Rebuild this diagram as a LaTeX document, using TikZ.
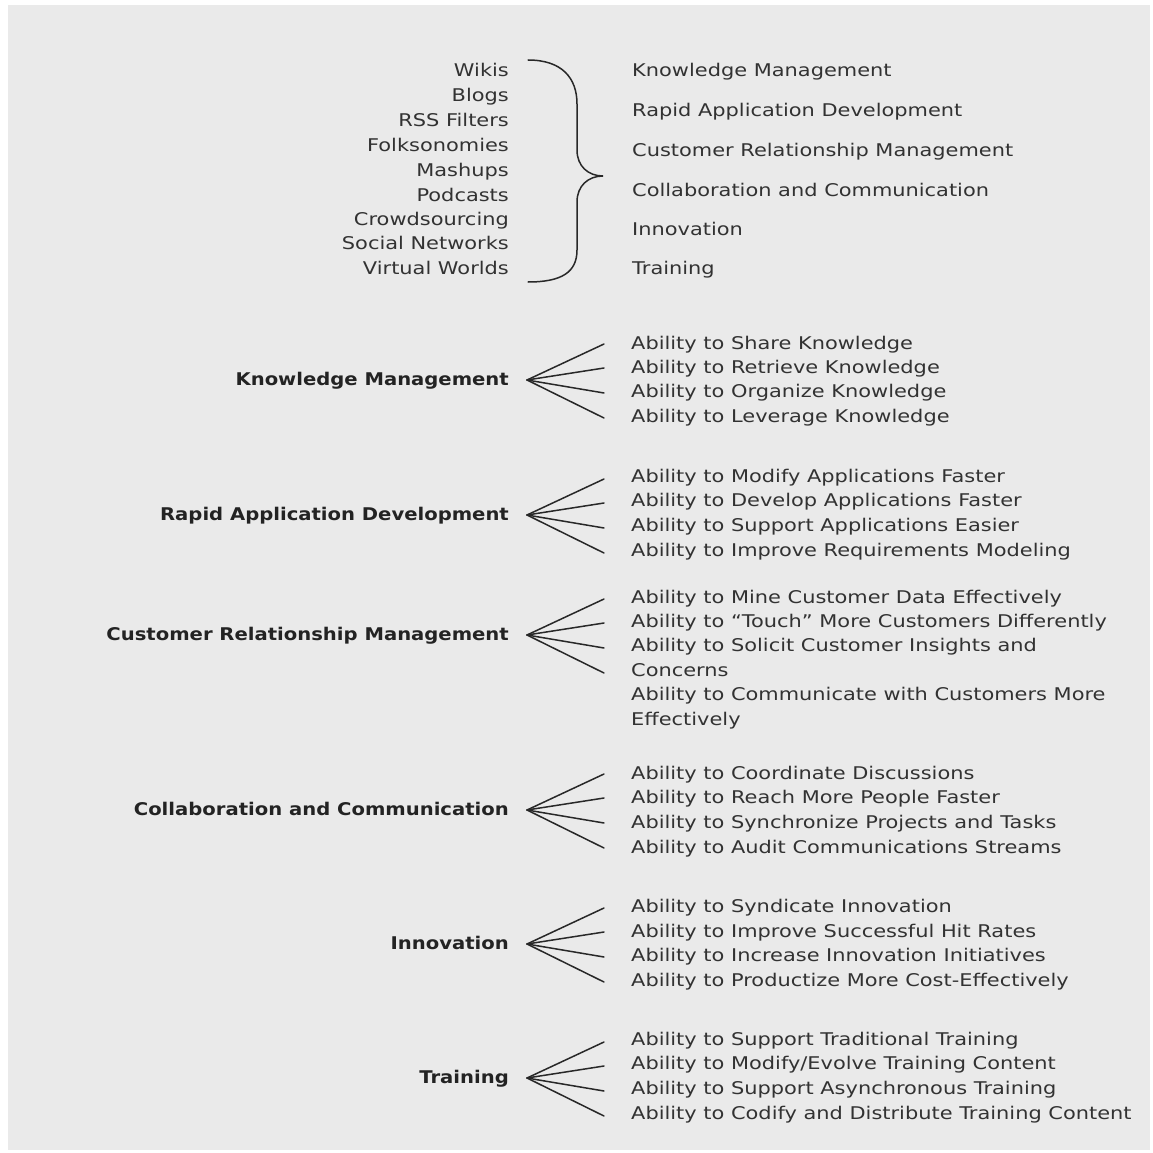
\documentclass[tikz,border=0pt]{standalone}
\usepackage{fontspec}
\setmainfont{DejaVu Sans}[FakeStretch=1.195]
\newfontfamily\headfamily{DejaVu Sans}[FakeStretch=1.12]
\definecolor{bgc}{RGB}{234,234,234}
\definecolor{txtc}{RGB}{50,50,50}
\definecolor{headc}{RGB}{35,35,35}
\definecolor{linec}{RGB}{40,40,40}
\newcommand{\itemfont}{\fontsize{17.5}{24.5}\selectfont}
\newcommand{\headfont}{\headfamily\bfseries\fontsize{17.5}{24.5}\selectfont}
\begin{document}
\begin{tikzpicture}[x=1pt,y=-1pt,
  item/.style={anchor=base west,inner sep=0pt,text=txtc,font=\itemfont,align=left},
  tool/.style={anchor=base east,inner sep=0pt,text=txtc,font=\itemfont},
  head/.style={anchor=base east,inner sep=0pt,text=headc,font=\headfont},
  fan/.style={draw=linec,line width=1.5pt,line cap=round},
  bracepath/.style={draw=linec,line width=1.5pt,line cap=round}]
\useasboundingbox (0,0) rectangle (1152,1153);
\fill[bgc] (8,5) rectangle (1150,1150);

% technologies
\node[tool] (t1) at (509,77)  {Wikis};
\node[tool] (t2) at (509,102) {Blogs};
\node[tool] (t3) at (509,127) {RSS Filters};
\node[tool] (t4) at (509,151) {Folksonomies};
\node[tool] (t5) at (509,176) {Mashups};
\node[tool] (t6) at (509,201) {Podcasts};
\node[tool] (t7) at (509,225) {Crowdsourcing};
\node[tool] (t8) at (509,249) {Social Networks};
\node[tool] (t9) at (509,274) {Virtual Worlds};

% brace joining the technologies to the business areas
\coordinate (btop) at (528,60);
\coordinate (btip) at (603,176);
\coordinate (bbot) at (528,282);
\path[bracepath] (btop) .. controls (562,60) and (577,78) .. (577,104)
  -- (577,150) .. controls (577,166) and (588,176) .. (btip)
  .. controls (588,176) and (577,186) .. (577,202)
  -- (577,250) .. controls (577,272) and (562,282) .. (bbot);

% business areas
\node[item] (r1) at (632,77)  {Knowledge Management};
\node[item] (r2) at (632,117) {Rapid Application Development};
\node[item] (r3) at (632,156) {Customer Relationship Management};
\node[item] (r4) at (632,196) {Collaboration and Communication};
\node[item] (r5) at (632,235) {Innovation};
\node[item] (r6) at (632,274) {Training};

% headings with their fans
\node[head] (hKM)  at (509,385)  {Knowledge Management};
\node[head] (hRAD) at (509,520)  {Rapid Application Development};
\node[head] (hCRM) at (509,640)  {Customer Relationship Management};
\node[head] (hCC)  at (509,815)  {Collaboration and Communication};
\node[head] (hIN)  at (509,949)  {Innovation};
\node[head] (hTR)  at (509,1083) {Training};

\foreach \g/\c in {KM/378,RAD/513,CRM/633,CC/808,IN/942,TR/1076}{
  \coordinate (a\g) at (527,\c+2);
  \foreach \d [count=\i] in {-34,-10,15,40}{
    \coordinate (e\g\i) at (604,\c+\d);
    \path[fan] (a\g) -- (e\g\i);
  }
}

% capabilities
\node[item] (km1) at (631,349) {Ability to Share Knowledge};
\node[item] (km2) at (631,373) {Ability to Retrieve Knowledge};
\node[item] (km3) at (631,397) {Ability to Organize Knowledge};
\node[item] (km4) at (631,422) {Ability to Leverage Knowledge};

\node[item] (rad1) at (631,482) {Ability to Modify Applications Faster};
\node[item] (rad2) at (631,506) {Ability to Develop Applications Faster};
\node[item] (rad3) at (631,531) {Ability to Support Applications Easier};
\node[item] (rad4) at (631,556) {Ability to Improve Requirements Modeling};

\node[item] (crm1) at (631,603) {Ability to Mine Customer Data Effectively};
\node[item] (crm2) at (631,627) {Ability to ``Touch'' More Customers Differently};
\node[item] (crm3) at (631,676) {Ability to Solicit Customer Insights and\\Concerns};
\node[item] (crm4) at (631,725) {Ability to Communicate with Customers More\\Effectively};

\node[item] (cc1) at (631,779) {Ability to Coordinate Discussions};
\node[item] (cc2) at (631,803) {Ability to Reach More People Faster};
\node[item] (cc3) at (631,828) {Ability to Synchronize Projects and Tasks};
\node[item] (cc4) at (631,853) {Ability to Audit Communications Streams};

\node[item] (in1) at (631,912) {Ability to Syndicate Innovation};
\node[item] (in2) at (631,937) {Ability to Improve Successful Hit Rates};
\node[item] (in3) at (631,961) {Ability to Increase Innovation Initiatives};
\node[item] (in4) at (631,986) {Ability to Productize More Cost-Effectively};

\node[item] (tr1) at (631,1045) {Ability to Support Traditional Training};
\node[item] (tr2) at (631,1069) {Ability to Modify/Evolve Training Content};
\node[item] (tr3) at (631,1094) {Ability to Support Asynchronous Training};
\node[item] (tr4) at (631,1119) {Ability to Codify and Distribute Training Content};
\end{tikzpicture}
\end{document}
